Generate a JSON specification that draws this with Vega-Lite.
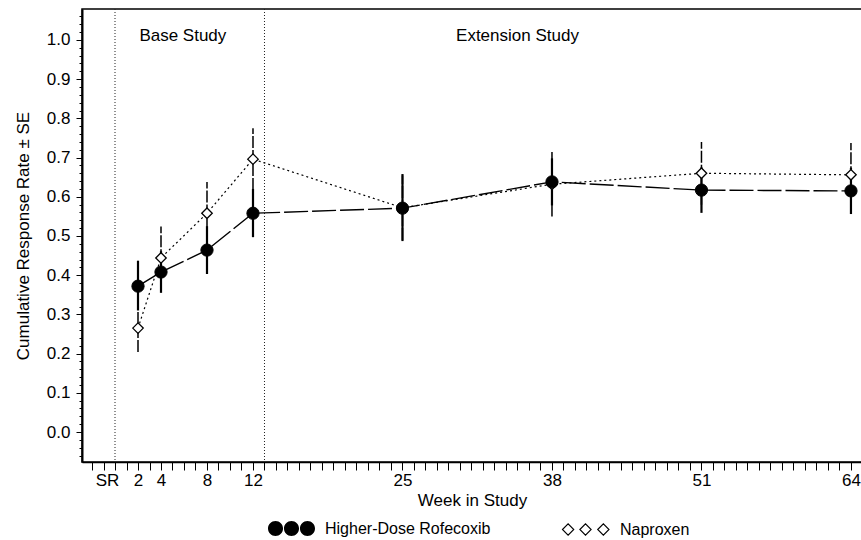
{
  "$schema": "https://vega.github.io/schema/vega-lite/v6.json",
  "width": 780,
  "height": 453,
  "autosize": {"type": "none"},
  "padding": {"left": 82, "top": 9, "right": 0, "bottom": 78},
  "background": "white",
  "datasets": {
    "series": [
      {"group": "Higher-Dose Rofecoxib", "week": 2, "rate": 0.372, "lo": 0.31, "hi": 0.437},
      {"group": "Higher-Dose Rofecoxib", "week": 4, "rate": 0.408, "lo": 0.355, "hi": 0.461},
      {"group": "Higher-Dose Rofecoxib", "week": 8, "rate": 0.464, "lo": 0.403, "hi": 0.525},
      {"group": "Higher-Dose Rofecoxib", "week": 12, "rate": 0.558, "lo": 0.497, "hi": 0.62},
      {"group": "Higher-Dose Rofecoxib", "week": 25, "rate": 0.571, "lo": 0.487, "hi": 0.658},
      {"group": "Higher-Dose Rofecoxib", "week": 38, "rate": 0.638, "lo": 0.578, "hi": 0.698},
      {"group": "Higher-Dose Rofecoxib", "week": 51, "rate": 0.617, "lo": 0.559, "hi": 0.675},
      {"group": "Higher-Dose Rofecoxib", "week": 64, "rate": 0.615, "lo": 0.556, "hi": 0.674},
      {"group": "Naproxen", "week": 2, "rate": 0.265, "lo": 0.204, "hi": 0.326},
      {"group": "Naproxen", "week": 4, "rate": 0.444, "lo": 0.364, "hi": 0.524},
      {"group": "Naproxen", "week": 8, "rate": 0.558, "lo": 0.478, "hi": 0.638},
      {"group": "Naproxen", "week": 12, "rate": 0.696, "lo": 0.617, "hi": 0.775},
      {"group": "Naproxen", "week": 25, "rate": 0.572, "lo": 0.49, "hi": 0.654},
      {"group": "Naproxen", "week": 38, "rate": 0.632, "lo": 0.55, "hi": 0.714},
      {"group": "Naproxen", "week": 51, "rate": 0.66, "lo": 0.58, "hi": 0.74},
      {"group": "Naproxen", "week": 64, "rate": 0.656, "lo": 0.576, "hi": 0.737}
    ],
    "refs": [{"week": 0}, {"week": 13}],
    "notes": [
      {"label": "Base Study", "week": 5.9, "value": 0.998},
      {"label": "Extension Study", "week": 35, "value": 0.998}
    ]
  },
  "layer": [
    {
      "data": {"name": "refs"},
      "mark": {"type": "rule", "stroke": "#222", "strokeWidth": 1, "strokeDash": [1, 2]},
      "encoding": {
        "x": {"field": "week", "type": "quantitative", "scale": {"domain": [-2.87, 64.96], "nice": false, "zero": false},
          "axis": {
            "values": [-2,-1,0,1,2,3,4,5,6,7,8,9,10,11,12,13,14,15,16,17,18,19,20,21,22,23,24,25,26,27,28,29,30,31,32,33,34,35,36,37,38,39,40,41,42,43,44,45,46,47,48,49,50,51,52,53,54,55,56,57,58,59,60,61,62,63,64],
            "tickCount": 1000,
            "format": "d",
            "labelExpr": "indexof([0,2,4,8,12,25,38,51,64], datum.value) >= 0 ? (datum.value === 0 ? 'SR' : datum.label) : ''",
            "labelOffset": {"condition": {"test": "datum.value === 0", "value": -8}, "value": 0},
            "tickSize": 8, "tickWidth": 1, "domainWidth": 1.5,
            "labelFontSize": 17, "labelPadding": 2, "labelOverlap": false, "labelFlush": false,
            "title": "Week in Study", "titleFontSize": 17, "titleFontWeight": "normal", "titlePadding": 4
          }
        }
      }
    },
    {
      "data": {"name": "series"},
      "transform": [{"filter": "datum.group === 'Higher-Dose Rofecoxib'"}],
      "mark": {"type": "line", "stroke": "black", "strokeWidth": 1.4, "strokeDash": [24, 4]},
      "encoding": {
        "x": {"field": "week", "type": "quantitative"},
        "y": {"field": "rate", "type": "quantitative", "scale": {"domain": [-0.0765, 1.079], "nice": false, "zero": false},
          "axis": {
            "values": [-0.06,-0.04,-0.02,0,0.02,0.04,0.06,0.08,0.1,0.12,0.14,0.16,0.18,0.2,0.22,0.24,0.26,0.28,0.3,0.32,0.34,0.36,0.38,0.4,0.42,0.44,0.46,0.48,0.5,0.52,0.54,0.56,0.58,0.6,0.62,0.64,0.66,0.68,0.7,0.72,0.74,0.76,0.78,0.8,0.82,0.84,0.86,0.88,0.9,0.92,0.94,0.96,0.98,1,1.02,1.04,1.06],
            "tickCount": 1000,
            "labelExpr": "abs(round(datum.value*50) % 5) === 0 ? format(datum.value, '.1f') : ''",
            "tickSize": {"condition": {"test": "abs(round(datum.value*50) % 5) === 0", "value": 6}, "value": 3},
            "tickWidth": 1, "domainWidth": 2,
            "labelFontSize": 17, "labelPadding": 6, "labelOverlap": false, "labelFlush": false,
            "title": "Cumulative Response Rate ± SE", "titleFontSize": 17, "titleFontWeight": "normal", "titlePadding": 14
          }
        }
      }
    },
    {
      "data": {"name": "series"},
      "transform": [{"filter": "datum.group === 'Naproxen'"}],
      "mark": {"type": "line", "stroke": "black", "strokeWidth": 1.2, "strokeDash": [2, 3]},
      "encoding": {
        "x": {"field": "week", "type": "quantitative"},
        "y": {"field": "rate", "type": "quantitative"}
      }
    },
    {
      "data": {"name": "series"},
      "transform": [{"filter": "datum.group === 'Naproxen'"}],
      "mark": {"type": "rule", "stroke": "black", "strokeWidth": 1.5, "strokeDash": [12, 2]},
      "encoding": {
        "x": {"field": "week", "type": "quantitative"},
        "y": {"field": "lo", "type": "quantitative"},
        "y2": {"field": "hi"}
      }
    },
    {
      "data": {"name": "series"},
      "transform": [{"filter": "datum.group === 'Higher-Dose Rofecoxib'"}],
      "mark": {"type": "rule", "stroke": "black", "strokeWidth": 2.2},
      "encoding": {
        "x": {"field": "week", "type": "quantitative"},
        "y": {"field": "lo", "type": "quantitative"},
        "y2": {"field": "hi"}
      }
    },
    {
      "data": {"name": "series"},
      "transform": [{"filter": "datum.group === 'Naproxen'"}],
      "mark": {"type": "point", "shape": "diamond", "filled": false, "fill": "white", "fillOpacity": 1, "strokeWidth": 1.3, "opacity": 1, "size": 110},
      "encoding": {
        "x": {"field": "week", "type": "quantitative"},
        "y": {"field": "rate", "type": "quantitative"},
        "stroke": {"field": "group", "type": "nominal", "scale": {"domain": ["Naproxen"], "range": ["black"]},
          "legend": {
            "orient": "none", "legendX": 479, "legendY": 496, "direction": "horizontal", "title": null,
            "symbolType": "M-0.98,0L-0.74,-0.24L-0.5,0L-0.74,0.24Z M-0.24,0L0,-0.24L0.24,0L0,0.24Z M0.52,0L0.76,-0.24L1,0L0.76,0.24Z",
            "symbolSize": 2209, "symbolFillColor": "white", "symbolStrokeWidth": 1.1,
            "labelFontSize": 16, "labelOffset": 10, "labelLimit": 0, "padding": 0, "labelColor": "black"
          }
        }
      }
    },
    {
      "data": {"name": "series"},
      "transform": [{"filter": "datum.group === 'Higher-Dose Rofecoxib'"}],
      "mark": {"type": "point", "shape": "circle", "filled": true, "stroke": "black", "strokeWidth": 1, "opacity": 1, "size": 150},
      "encoding": {
        "x": {"field": "week", "type": "quantitative"},
        "y": {"field": "rate", "type": "quantitative"},
        "fill": {"field": "group", "type": "nominal", "scale": {"domain": ["Higher-Dose Rofecoxib"], "range": ["black"]},
          "legend": {
            "orient": "none", "legendX": 186, "legendY": 496, "direction": "horizontal", "title": null,
            "symbolType": "M-1,0A0.32,0.32 0 1,0 -0.36,0A0.32,0.32 0 1,0 -1,0Z M-0.32,0A0.32,0.32 0 1,0 0.32,0A0.32,0.32 0 1,0 -0.32,0Z M0.36,0A0.32,0.32 0 1,0 1,0A0.32,0.32 0 1,0 0.36,0Z",
            "symbolSize": 2209, "symbolStrokeWidth": 0,
            "labelFontSize": 16, "labelOffset": 10, "labelLimit": 0, "padding": 0, "labelColor": "black"
          }
        }
      }
    },
    {
      "data": {"name": "notes"},
      "mark": {"type": "text", "fontSize": 17, "align": "center", "baseline": "alphabetic", "color": "black"},
      "encoding": {
        "x": {"field": "week", "type": "quantitative"},
        "y": {"field": "value", "type": "quantitative"},
        "text": {"field": "label"}
      }
    }
  ],
  "config": {
    "font": "Liberation Sans",
    "view": {"stroke": "black", "strokeWidth": 1.5},
    "axis": {"labelColor": "black", "titleColor": "black", "tickColor": "black", "domainColor": "black", "grid": false, "labelFont": "Liberation Sans", "titleFont": "Liberation Sans"},
    "legend": {"labelFont": "Liberation Sans"}
  }
}
